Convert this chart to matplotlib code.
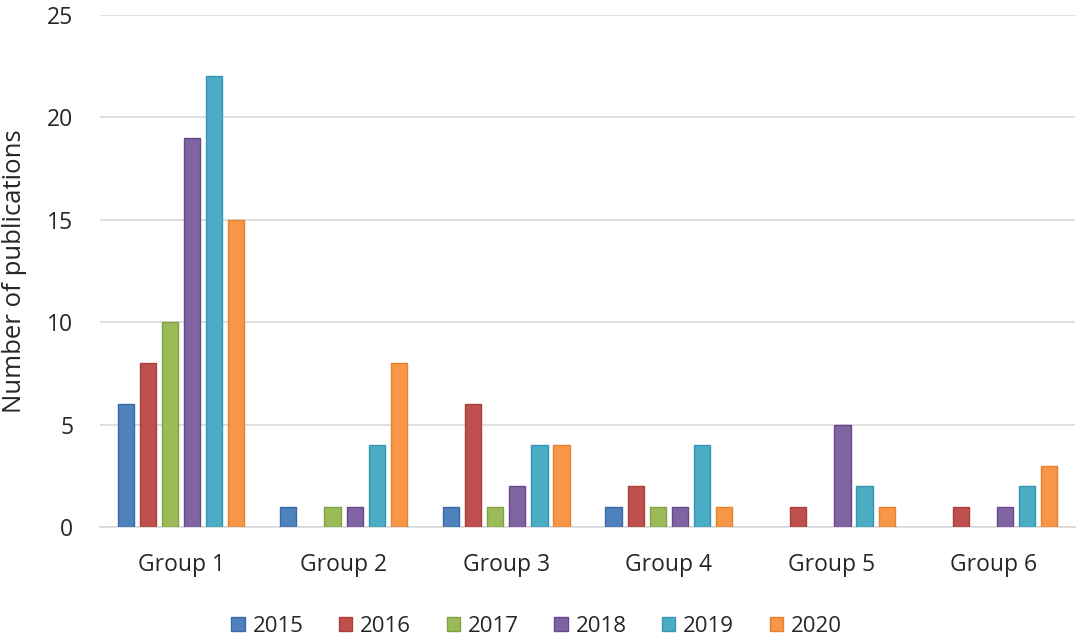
import matplotlib
matplotlib.use("Agg")
import matplotlib.pyplot as plt
import numpy as np

groups = ["Group 1", "Group 2", "Group 3", "Group 4", "Group 5", "Group 6"]
years = ["2015", "2016", "2017", "2018", "2019", "2020"]
v2015 = [6, 1, 1, 1, 0, 0]
v2016 = [8, 0, 6, 2, 1, 1]
v2017 = [10, 1, 1, 1, 0, 0]
v2018 = [19, 1, 2, 1, 5, 1]
v2019 = [22, 4, 4, 4, 2, 2]
v2020 = [15, 8, 4, 1, 1, 3]
series = [v2015, v2016, v2017, v2018, v2019, v2020]
fills = ["#4F81BD", "#C0504D", "#9BBB59", "#8064A2", "#4BACC6", "#F79646"]
edges = ["#3A68A8", "#A8403D", "#7FA043", "#66498A", "#3796B0", "#E5812F"]

plt.rcParams['font.family'] = ['Open Sans', 'DejaVu Sans']
txt = "#262626"
fig = plt.figure(figsize=(10.84, 6.42), dpi=100)
ax = fig.add_axes([0.092, 0.179, 0.900, 0.798])

x = np.arange(len(groups))
w = 0.1
step = 0.136
handles = []
for i, (vals, fc, ec, yr) in enumerate(zip(series, fills, edges, years)):
    bars = ax.bar(x + (i - 2.5) * step, vals, width=w, color=fc, edgecolor=ec,
                  linewidth=1.0, label=yr, zorder=3)
    handles.append(bars)
    for b, v in zip(bars, vals):
        if v == 0:
            b.set_visible(False)

ax.set_xlim(-0.5, len(groups) - 0.5)
ax.set_ylim(0, 25)
ax.set_yticks(range(0, 26, 5))
ax.yaxis.grid(True, color="#D9D9D9", linewidth=1.2, zorder=0)
ax.set_axisbelow(True)
for s in ["top", "right", "left"]:
    ax.spines[s].set_visible(False)
ax.spines["bottom"].set_color("#D9D9D9")
ax.spines["bottom"].set_linewidth(1.2)
ax.tick_params(axis="both", length=0, labelsize=16.5, colors=txt)
ax.tick_params(axis="x", pad=19)
ax.tick_params(axis="y", pad=19)
ax.set_xticks(x)
ax.set_xticklabels(groups)
ax.set_ylabel("Number of publications", fontsize=18.5, color=txt)
ax.yaxis.set_label_coords(-0.075, 0.5)

fig.legend(handles=handles, labels=years, loc="center", bbox_to_anchor=(0.495, 0.024),
           ncol=6, frameon=False, fontsize=16, handlelength=0.6, handleheight=0.6,
           handletextpad=0.35, columnspacing=1.6, labelcolor=txt,
           borderpad=0, borderaxespad=0)

fig.savefig("out.png", dpi=100)
